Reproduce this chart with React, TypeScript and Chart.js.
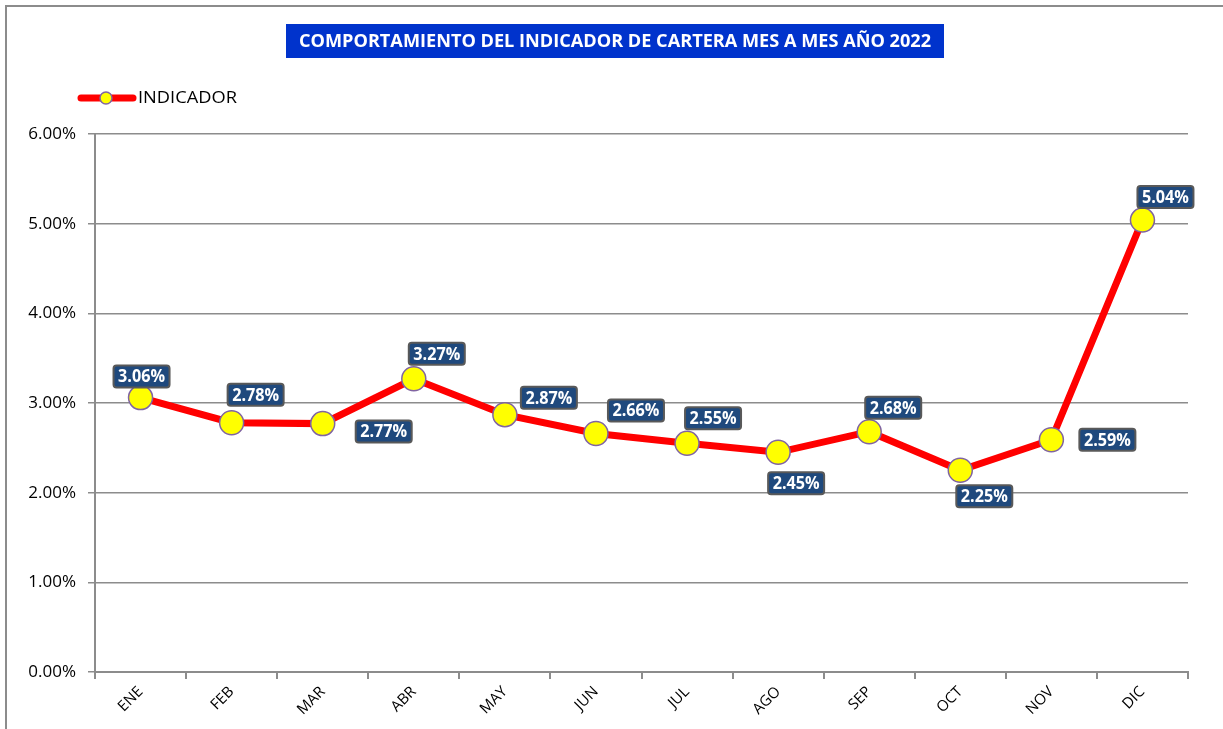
import React, { useEffect, useRef } from "react";
import { Chart, registerables } from "chart.js";

Chart.register(...registerables);

const TITLE = "COMPORTAMIENTO DEL INDICADOR DE CARTERA MES A MES AÑO 2022";
const SERIES_NAME = "INDICADOR";
const MONTHS = ["ENE", "FEB", "MAR", "ABR", "MAY", "JUN", "JUL", "AGO", "SEP", "OCT", "NOV", "DIC"];
const INDICADOR = [3.06, 2.78, 2.77, 3.27, 2.87, 2.66, 2.55, 2.45, 2.68, 2.25, 2.59, 5.04];
const Y_MIN = 0;
const Y_MAX = 6;
const Y_STEP = 1;

// label box offsets (style): center relative to point
const LABEL_OFFSETS: [number, number][] = [
  [1, -21], [24, -28], [61, 8], [23, -25], [44, -17], [40, -23],
  [26, -25], [18, 31], [24, -24], [24, 26], [56, 0], [23, -23],
];

const FONT = "'Open Sans', 'Noto Sans', sans-serif";

function roundRect(ctx: CanvasRenderingContext2D, x: number, y: number, w: number, h: number, r: number) {
  ctx.beginPath();
  ctx.moveTo(x + r, y);
  ctx.lineTo(x + w - r, y);
  ctx.quadraticCurveTo(x + w, y, x + w, y + r);
  ctx.lineTo(x + w, y + h - r);
  ctx.quadraticCurveTo(x + w, y + h, x + w - r, y + h);
  ctx.lineTo(x + r, y + h);
  ctx.quadraticCurveTo(x, y + h, x, y + h - r);
  ctx.lineTo(x, y + r);
  ctx.quadraticCurveTo(x, y, x + r, y);
  ctx.closePath();
}

const decorPlugin = {
  id: "decor",
  beforeDraw(chart: any) {
    const ctx = chart.ctx as CanvasRenderingContext2D;
    ctx.save();
    ctx.fillStyle = "#ffffff";
    ctx.fillRect(0, 0, chart.width, chart.height);
    // outer frame
    ctx.strokeStyle = "#8c8c8c";
    ctx.lineWidth = 2;
    ctx.beginPath();
    ctx.moveTo(6, chart.height);
    ctx.lineTo(6, 6);
    ctx.lineTo(chart.width, 6);
    ctx.stroke();
    // title box
    ctx.fillStyle = "#0033CC";
    ctx.fillRect(286, 24, 658, 34);
    ctx.fillStyle = "#ffffff";
    ctx.font = `bold 18px ${FONT}`;
    ctx.textBaseline = "middle";
    ctx.textAlign = "center";
    const tw = ctx.measureText(TITLE).width;
    const target = 632;
    ctx.translate(615, 42);
    ctx.scale(target / tw, 1);
    ctx.fillText(TITLE, 0, 0);
    ctx.restore();

    // legend
    ctx.save();
    ctx.strokeStyle = "#FF0000";
    ctx.lineWidth = 7;
    ctx.lineCap = "round";
    ctx.beginPath();
    ctx.moveTo(81, 98);
    ctx.lineTo(133, 98);
    ctx.stroke();
    ctx.beginPath();
    ctx.arc(106, 98, 6, 0, Math.PI * 2);
    ctx.fillStyle = "#FFFF00";
    ctx.fill();
    ctx.lineWidth = 1.5;
    ctx.strokeStyle = "#8064A2";
    ctx.stroke();
    ctx.fillStyle = "#000000";
    ctx.font = `17px ${FONT}`;
    ctx.textBaseline = "middle";
    ctx.textAlign = "left";
    const lw = ctx.measureText(SERIES_NAME).width;
    ctx.translate(138, 98);
    ctx.scale(99 / lw, 1);
    ctx.fillText(SERIES_NAME, 0, 0);
    ctx.restore();
  },
  afterDatasetsDraw(chart: any) {
    const ctx = chart.ctx as CanvasRenderingContext2D;
    const meta = chart.getDatasetMeta(0);
    const data = chart.data.datasets[0].data as number[];
    ctx.save();
    ctx.font = `bold 17px ${FONT}`;
    ctx.textAlign = "center";
    ctx.textBaseline = "middle";
    meta.data.forEach((pt: any, i: number) => {
      const text = `${data[i].toFixed(2)}%`;
      const [dx, dy] = LABEL_OFFSETS[i];
      const cx = pt.x + dx;
      const cy = pt.y + dy;
      const w = 56;
      const h = 22;
      roundRect(ctx, cx - w / 2, cy - h / 2, w, h, 3);
      ctx.fillStyle = "#1F497D";
      ctx.fill();
      ctx.lineWidth = 2;
      ctx.strokeStyle = "#595959";
      ctx.stroke();
      ctx.fillStyle = "#ffffff";
      const mw = ctx.measureText(text).width;
      ctx.save();
      ctx.translate(cx, cy + 1);
      ctx.scale(47 / mw, 1);
      ctx.fillText(text, 0, 0);
      ctx.restore();
    });
    ctx.restore();
  },
};

export default function App() {
  const ref = useRef<HTMLCanvasElement | null>(null);
  useEffect(() => {
    document.body.style.margin = "0";
    const canvas = ref.current!;
    const chart = new Chart(canvas, {
      type: "line",
      data: {
        labels: MONTHS,
        datasets: [
          {
            label: SERIES_NAME,
            data: INDICADOR,
            borderColor: "#FF0000",
            borderWidth: 7,
            pointRadius: 12,
            pointHoverRadius: 12,
            pointBackgroundColor: "#FFFF00",
            pointBorderColor: "#8064A2",
            pointBorderWidth: 1.5,
            tension: 0,
          },
        ],
      },
      options: {
        animation: false,
        responsive: false,
        maintainAspectRatio: false,
        layout: { padding: { top: 134, right: 35, bottom: 0, left: 0 } },
        plugins: {
          legend: { display: false },
          title: { display: false },
          tooltip: { enabled: false },
        },
        scales: {
          x: {
            offset: true,
            grid: {
              offset: true,
              drawOnChartArea: false,
              tickLength: 7,
              color: "#8c8c8c",
              lineWidth: 2,
            },
            border: { color: "#8c8c8c", width: 2 },
            ticks: {
              color: "#000000",
              font: { family: FONT, size: 15 },
              minRotation: 45,
              maxRotation: 45,
              padding: 4,
            },
            afterFit: (s: any) => {
              s.height = 57;
            },
          },
          y: {
            min: Y_MIN,
            max: Y_MAX,
            grid: {
              color: "#8c8c8c",
              lineWidth: 1.5,
              tickLength: 7,
            },
            border: { color: "#8c8c8c", width: 2 },
            ticks: {
              stepSize: Y_STEP,
              color: "#000000",
              font: { family: FONT, size: 17 },
              padding: 12,
              callback: (v: any) => `${Number(v).toFixed(2)}%`,
            },
            afterFit: (s: any) => {
              s.width = 95;
            },
          },
        },
      },
      plugins: [decorPlugin],
    });
    return () => chart.destroy();
  }, []);
  return <canvas ref={ref} width={1223} height={729} style={{ display: "block" }} />;
}
